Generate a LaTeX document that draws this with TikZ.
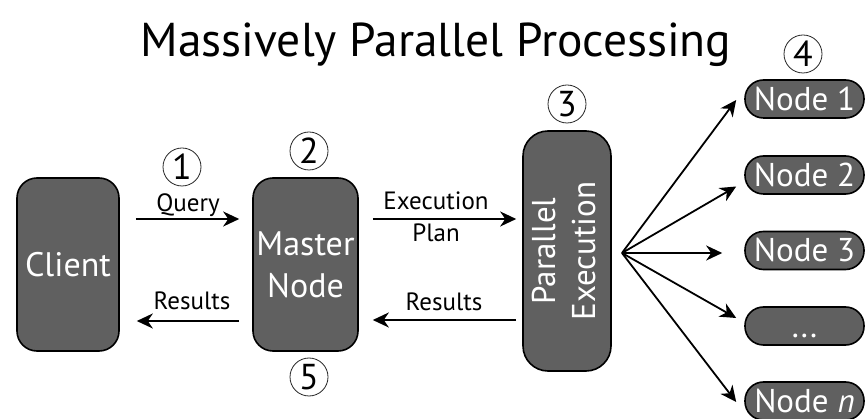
\documentclass[tikz,border=0pt]{standalone}
\usepackage{fontspec}
\setmainfont{PT Sans}
\usetikzlibrary{arrows.meta,calc}
\definecolor{boxgray}{HTML}{606060}
\begin{document}
\begin{tikzpicture}[x=1pt,y=-1pt,
  box/.style={draw=black, line width=1.6pt, fill=boxgray, text=white, rounded corners=#1, inner sep=0pt, align=center},
  bigtxt/.style={font=\fontsize{34}{42}\selectfont},
  smallbox/.style={box=18.5pt, minimum width=119pt, minimum height=38pt, text height=23pt, text depth=0pt, font=\fontsize{33}{40}\selectfont},
  circ/.style={circle, draw=black!85, line width=0.8pt, minimum size=38pt, inner sep=0pt, font=\fontsize{36}{36}\selectfont},
  lab/.style={anchor=base, inner sep=0pt, font=\fontsize{25}{30}\selectfont},
  arr/.style={line width=1.8pt, -{Stealth[length=16pt,width=15pt,inset=5pt]}}
]
\useasboundingbox (0,0) rectangle (865,419);
\fill[white] (0,0) rectangle (865,419);

% title
\node[anchor=base, inner sep=0pt, font=\fontsize{47.5}{57}\selectfont] (title) at (436,57) {Massively Parallel Processing};

% main boxes
\node[box=20pt, bigtxt, minimum width=102pt, minimum height=173pt] (client) at (68,264.5) {Client};
\node[box=20pt, bigtxt, minimum width=105pt, minimum height=173pt] (master) at (305.5,264.5) {Master\\Node};
\node[box=25pt, minimum width=88pt, minimum height=240pt, font=\fontsize{33}{40}\selectfont] (par) at (567,251)
  {\rotatebox{90}{\begin{tabular}{@{}c@{}}Parallel\\Execution\end{tabular}}};

% worker nodes
\node[smallbox] (n1) at (804.5,99) {Node 1};
\node[smallbox] (n2) at (804.5,175) {Node 2};
\node[smallbox] (n3) at (804.5,250.5) {Node 3};
\node[smallbox] (n4) at (804.5,326) {...};
\node[smallbox] (nn) at (804.5,401) {Node \textit{n}};

% step numbers
\node[circ] (c1) at (182,167) {1};
\node[circ] (c2) at (309,151) {2};
\node[circ] (c3) at (567,104) {3};
\node[circ] (c4) at (803,54) {4};
\node[circ] (c5) at (309,377) {5};

% arrow levels
\coordinate (yq) at (0,219);
\coordinate (yr) at (0,321);
\coordinate (ye) at (0,219);
\coordinate (yr2) at (0,320);
\coordinate (fan) at (622,253);

% client <-> master
\draw[arr, shorten <=16pt, shorten >=13pt] (client.east |- yq) -- (master.west |- yq);
\draw[arr, shorten <=13pt, shorten >=17pt] (master.west |- yr) -- (client.east |- yr);
\node[lab] (lq) at (188,212) {Query};
\node[lab] (lr1) at (192,310) {Results};

% master <-> parallel
\draw[arr, shorten <=14pt, shorten >=6pt] (master.east |- ye) -- (par.west |- ye);
\draw[arr, shorten <=6pt, shorten >=14pt] (par.west |- yr2) -- (master.east |- yr2);
\node[lab] (le) at (436,210) {Execution};
\node[lab] (lp) at (436,242) {Plan};
\node[lab] (lr2) at (444,311) {Results};

% fan-out
\draw[arr] (fan) -- ([xshift=-8pt,yshift=-1pt]n1.west);
\draw[arr] (fan) -- ([xshift=-8pt,yshift=-11.5pt]n2.west);
\draw[arr] (fan) -- ([xshift=-22pt,yshift=-2.5pt]n3.west);
\draw[arr] (fan) -- ([xshift=-8pt,yshift=8pt]n4.west);
\draw[arr] (fan) -- ([xshift=-8pt,yshift=-1pt]nn.west);
\end{tikzpicture}
\end{document}
